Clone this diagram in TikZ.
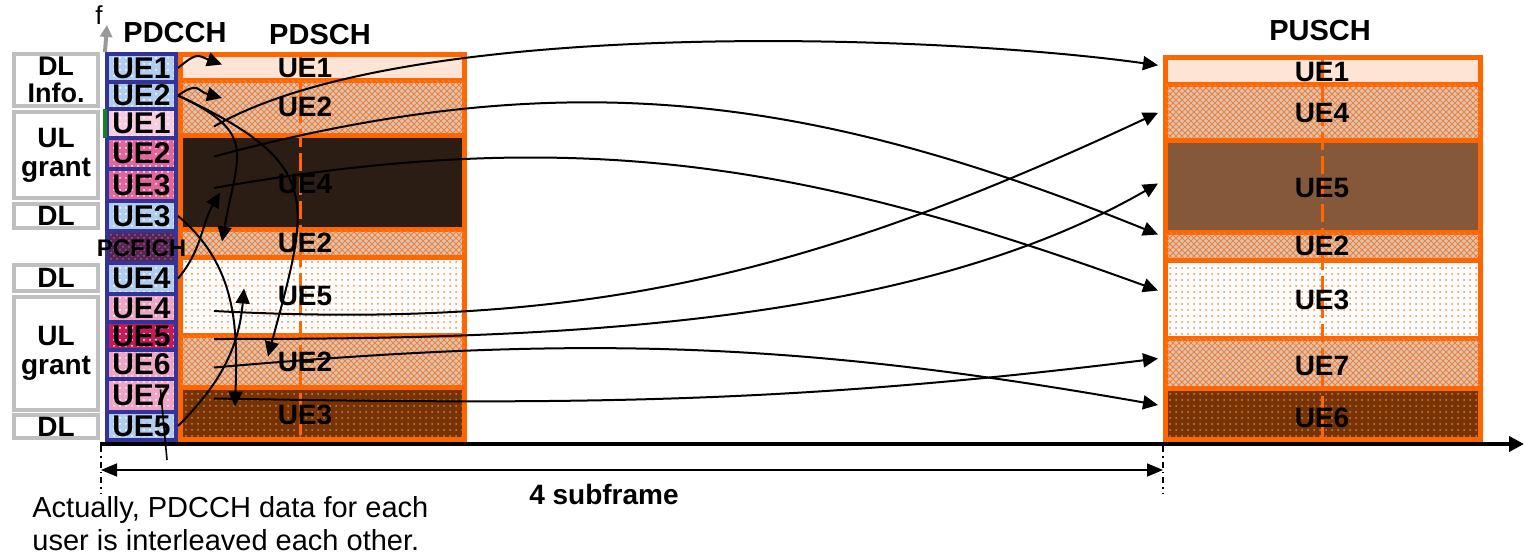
\documentclass[tikz,border=0pt]{standalone}
\usepackage{fontspec}
\setmainfont{Liberation Sans}
\usetikzlibrary{arrows.meta, calc, patterns}
\usepackage{xcolor}
\definecolor{boxgray}{RGB}{191,191,191}
\definecolor{chblue}{RGB}{51,51,153}
\definecolor{dlblue}{RGB}{176,205,240}
\definecolor{ulpale}{RGB}{246,205,224}
\definecolor{ulpink}{RGB}{228,100,156}
\definecolor{ullight}{RGB}{238,165,198}
\definecolor{ulred}{RGB}{196,26,92}
\definecolor{ulgreen}{RGB}{20,130,30}
\definecolor{pcfpurple}{RGB}{94,33,87}
\definecolor{schorange}{RGB}{255,102,0}
\definecolor{peach}{RGB}{253,228,212}
\definecolor{hatchgray}{RGB}{205,200,196}
\definecolor{darkbrown}{RGB}{43,28,20}
\definecolor{rustbrown}{RGB}{122,51,0}
\definecolor{midbrown}{RGB}{134,88,58}
\definecolor{dotgray}{RGB}{165,140,125}
\tikzstyle{tag} = [rectangle, draw=boxgray, line width=2pt, fill=white, minimum width=42pt, inner sep=0pt, align=center, font=\bfseries\fontsize{14}{14.5}\selectfont]
\tikzstyle{cch} = [rectangle, draw=chblue, line width=2pt, minimum width=34.5pt, inner sep=0pt, font=\bfseries\fontsize{15}{15}\selectfont]
\tikzstyle{dlcell} = [cch, preaction={fill=dlblue}, pattern=dots, pattern color=white]
\tikzstyle{ulcell} = [cch, pattern=dots, pattern color=white]
\tikzstyle{band} = [rectangle, draw=schorange, line width=2.5pt, inner sep=0pt]
\tikzstyle{dsch} = [band, minimum width=142pt]
\tikzstyle{usch} = [band, minimum width=157.5pt]
\tikzstyle{peachfill} = [fill=peach]
\tikzstyle{hatch} = [preaction={fill=hatchgray}, pattern=north east lines, pattern color=schorange!85, postaction={pattern=north west lines, pattern color=schorange!85}]
\tikzstyle{speckle} = [preaction={fill=white}, pattern=dots, pattern color=schorange!80]
\tikzstyle{rust} = [preaction={fill=rustbrown}, pattern=dots, pattern color=dotgray]
\tikzstyle{dark} = [fill=darkbrown]
\tikzstyle{umber} = [fill=midbrown]
\tikzstyle{midline} = [draw=schorange, line width=1.5pt, dash pattern=on 9pt off 3pt]
\tikzstyle{ue} = [inner sep=0pt, font=\bfseries\fontsize{14}{14}\selectfont]
\tikzstyle{title} = [inner sep=0pt, font=\bfseries\fontsize{14.5}{14.5}\selectfont]
\tikzstyle{arrow} = [line width=1pt, -{Triangle[length=7.5pt,width=7pt]}]
\tikzstyle{pointer} = [line width=0.8pt]
\tikzstyle{timeaxis} = [line width=2pt, -{Triangle[length=7.5pt,width=7.5pt]}]
\tikzstyle{spanarrow} = [line width=0.8pt, {Triangle[length=8pt,width=6.5pt]}-{Triangle[length=8pt,width=6.5pt]}]
\tikzstyle{cutline} = [line width=0.8pt, dash dot]
\tikzstyle{faxis} = [draw=boxgray!80!black, line width=2pt, -{Triangle[length=6pt,width=6pt]}]

\begin{document}
\begin{tikzpicture}[x=0.5pt, y=-0.5pt]
    \useasboundingbox (0,0) rectangle (1525,556);

    % Control type tags
    \node (tagA) [tag, minimum height=26pt, font=\bfseries\fontsize{13.5}{13.5}\selectfont] at (56,80) {DL\\Info.};
    \node (tagB) [tag, minimum height=43pt] at (56,155) {UL\\grant};
    \node (tagC) [tag, minimum height=12pt] at (56,216) {DL};
    \node (tagD) [tag, minimum height=13pt] at (56,278) {DL};
    \node (tagE) [tag, minimum height=56.5pt] at (56,353.5) {UL\\grant};
    \node (tagF) [tag, minimum height=11.5pt] at (56,426.5) {DL};

    % PDCCH column
    \node (dlA) [dlcell, minimum height=14pt] at (141.5,68) {UE1};
    \node (dlB) [dlcell, minimum height=13.5pt] at (141.5,95.5) {UE2};
    \node (ulA) [ulcell, preaction={fill=ulpale}, minimum height=14.5pt] at (141.5,123.5) {UE1};
    \node (ulB) [ulcell, preaction={fill=ulpink}, minimum height=15.5pt] at (141.5,153.5) {UE2};
    \node (ulC) [ulcell, preaction={fill=ulpink}, minimum height=16pt] at (141.5,185) {UE3};
    \node (dlC) [dlcell, minimum height=15pt] at (141.5,216) {UE3};
    \node (pcf) [cch, preaction={fill=pcfpurple}, pattern=crosshatch dots, pattern color=black!55, minimum height=16pt] at (141.5,247) {};
    \node (dlD) [dlcell, minimum height=15.5pt] at (141.5,278.5) {UE4};
    \node (ulD) [ulcell, preaction={fill=ullight}, minimum height=14pt] at (141.5,308) {UE4};
    \node (ulE) [ulcell, preaction={fill=ulred}, minimum height=14pt] at (141.5,336) {UE5};
    \node (ulF) [ulcell, preaction={fill=ullight}, minimum height=14.5pt] at (141.5,364.5) {UE6};
    \node (ulG) [ulcell, preaction={fill=ullight}, minimum height=16.5pt] at (141.5,395.5) {UE7};
    \node (dlE) [dlcell, minimum height=14pt] at (141.5,426) {UE5};
    \draw [ulgreen, line width=2pt] ([yshift=-1pt]ulA.north west) -- ([yshift=1pt]ulA.south west);

    % PDSCH block
    \node (sA) [dsch, peachfill, minimum height=13pt] at (322.5,67.5) {};
    \node (sB) [dsch, hatch, minimum height=27.5pt] at (322.5,108) {};
    \node (sC) [dsch, dark, minimum height=47pt] at (322.5,182.5) {};
    \node (sD) [dsch, hatch, minimum height=14pt] at (322.5,243.5) {};
    \node (sE) [dsch, speckle, minimum height=39pt] at (322.5,296.5) {};
    \node (sF) [dsch, hatch, minimum height=26pt] at (322.5,361.5) {};
    \node (sG) [dsch, rust, minimum height=26pt] at (322.5,413.5) {};
    \draw [midline] (300,57) -- (300,437);
    \node (sLabA) [ue] at (305,68) {UE1};
    \node (sLabB) [ue] at (305,107) {UE2};
    \node (sLabC) [ue] at (305,184) {UE4};
    \node (sLabD) [ue] at (305,243) {UE2};
    \node (sLabE) [ue] at (305,296) {UE5};
    \node (sLabF) [ue] at (305,362) {UE2};
    \node (sLabG) [ue] at (305,415) {UE3};
    \node (pcfName) [inner sep=0pt, font=\bfseries\fontsize{12}{12}\selectfont] at (141.5,248) {PCFICH};

    % PUSCH block
    \node (pA) [usch, peachfill, minimum height=13.75pt] at (1323,71.25) {};
    \node (pB) [usch, hatch, minimum height=27.75pt] at (1323,112.75) {};
    \node (pC) [usch, umber, minimum height=46pt] at (1323,186.5) {};
    \node (pD) [usch, hatch, minimum height=14pt] at (1323,246.5) {};
    \node (pE) [usch, speckle, minimum height=39pt] at (1323,299.5) {};
    \node (pF) [usch, hatch, minimum height=25pt] at (1323,363.5) {};
    \node (pG) [usch, rust, minimum height=25.5pt] at (1323,414) {};
    \draw [midline] (1322,60) -- (1322,437);
    \node (pLabA) [ue] at (1322,72) {UE1};
    \node (pLabB) [ue] at (1322,113) {UE4};
    \node (pLabC) [ue] at (1322,188) {UE5};
    \node (pLabD) [ue] at (1322,246) {UE2};
    \node (pLabE) [ue] at (1322,300) {UE3};
    \node (pLabF) [ue] at (1322,366) {UE7};
    \node (pLabG) [ue] at (1322,418) {UE6};

    % Headings and frequency axis
    \node (hPDCCH) [title] at (175,33) {PDCCH};
    \node (hPDSCH) [title] at (320,35) {PDSCH};
    \node (hPUSCH) [title] at (1320,31) {PUSCH};
    \coordinate (fTop) at (107,25);
    \draw [faxis] (dlA.north west) -- (fTop);
    \node (fLabel) [inner sep=0pt, font=\fontsize{13}{13}\selectfont] at (99,15) {f};

    % Time axis and subframe span
    \coordinate (tStart) at (100,444);
    \coordinate (tEnd) at (1524,444);
    \coordinate (cutA) at (101,494);
    \coordinate (cutB) at (1163,494);
    \coordinate (spanA) at (101,470);
    \coordinate (spanB) at (1163,470);
    \draw [timeaxis] (tStart) -- (tEnd);
    \draw [cutline] (101,446) -- (cutA);
    \draw [cutline] (1163,446) -- (cutB);
    \draw [spanarrow] (spanA) -- (spanB);
    \node (spanLabel) [title, font=\bfseries\fontsize{14}{14}\selectfont] at (604,494) {4 subframe};

    % Note on interleaving
    \node (note) [anchor=north west, inner sep=0pt, align=left, font=\fontsize{14.5}{16.5}\selectfont] at (32,496) {Actually, PDCCH data for each\\user is interleaved each other.};
    \coordinate (noteTip) at (167,460);
    \draw [pointer] (noteTip) -- ($(ulG.center)+(19,-6)$);

    % DL assignments into PDSCH
    \draw [arrow] (dlA.east) to[out=40,in=160,looseness=1.5] ($(sA.west)+(44,-3)$);
    \draw [arrow] (dlB.east) to[out=35,in=165,looseness=1.5] ($(sB.west)+(44,-10)$);
    \draw [arrow] (dlB.east) to[out=-25,in=80,looseness=1.5] ($(sD.west)+(44,-2)$);
    \draw [arrow] (dlB.east) to[out=-25,in=75,looseness=1.5] ($(sF.west)+(90,-5)$);
    \draw [arrow] (dlC.east) to[out=-40,in=88] ($(sG.west)+(57,-7)$);
    \draw [arrow] (dlD.east) to[out=50,in=-120] ($(sC.west)+(42,10)$);
    \draw [arrow] (dlE.east) to[out=45,in=-95] ($(sE.west)+(66,-8)$);

    % UL grants into PUSCH
    \draw [arrow] ($(ulA.east)+(36,3)$) to[out=30,in=172,looseness=0.6] ($(pA.west)+(-5,-6)$);
    \draw [arrow] ($(ulB.east)+(36,3)$) to[out=15,in=158] ($(pD.west)+(-5,-12)$);
    \draw [arrow] ($(ulC.east)+(36,3)$) to[out=10,in=160] ($(pE.west)+(-5,-9)$);
    \draw [arrow] ($(ulD.east)+(36,3)$) to[out=-3,in=-155] ($(pB.west)+(-5,0)$);
    \draw [arrow] ($(ulE.east)+(36,3)$) to[out=0,in=-150,looseness=0.8] ($(pC.west)+(-5,-3)$);
    \draw [arrow] ($(ulF.east)+(36,3)$) to[out=5,in=170] ($(pG.west)+(-5,-9)$);
    \draw [arrow] ($(ulG.east)+(36,3)$) to[out=-1,in=-173] ($(pF.west)+(-5,-5)$);

\end{tikzpicture}
\end{document}
